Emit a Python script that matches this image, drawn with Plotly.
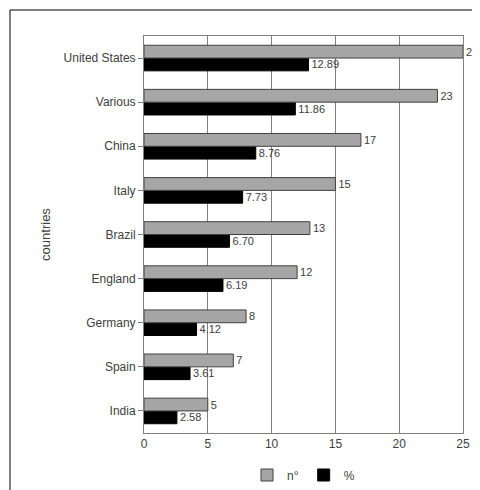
import plotly.graph_objects as go

countries = ["India", "Spain", "Germany", "England", "Brazil", "Italy", "China", "Various", "United States"]
n_values = [5, 7, 8, 12, 13, 15, 17, 23, 25]
pct_values = [2.58, 3.61, 4.12, 6.19, 6.70, 7.73, 8.76, 11.86, 12.89]

fig = go.Figure()
fig.add_trace(go.Bar(y=countries, x=pct_values, orientation="h", name="%",
                     marker=dict(color="black", line=dict(color="black", width=1)),
                     text=[f"{v:.2f}" for v in pct_values], textposition="outside",
                     textfont=dict(size=11, color="#404040"), cliponaxis=False))
fig.add_trace(go.Bar(y=countries, x=n_values, orientation="h", name="n°",
                     marker=dict(color="#a6a6a6", line=dict(color="#404040", width=1)),
                     text=[str(v) for v in n_values], textposition="outside",
                     textfont=dict(size=11, color="#404040"), cliponaxis=False))

W, H = 478, 486
L, R, T, B = 136, W - 455, 28, H - 425
pw, ph = W - L - R, H - T - B
def px(x): return (x - L) / pw
def py(y): return (H - B - y) / ph

fig.update_layout(
    width=W, height=H, margin=dict(l=L, r=R, t=T, b=B, autoexpand=False),
    paper_bgcolor="white", plot_bgcolor="white",
    font=dict(family="Liberation Sans, Arial", size=12, color="#404040"),
    barmode="group", bargap=0.42, bargroupgap=0,
    xaxis=dict(range=[0, 25], dtick=5, showgrid=True, gridcolor="#808080", gridwidth=1,
               linecolor="#808080", showline=True, mirror=True, ticks="", zeroline=False,
               automargin=False),
    yaxis=dict(showline=True, linecolor="#808080", mirror=True, ticks="outside",
               ticklen=5, tickcolor="#808080", automargin=False,
               title=dict(text="countries", font=dict(size=13), standoff=10)),
    legend=dict(orientation="h", x=0.5, xanchor="center", y=py(467), yanchor="middle",
                traceorder="reversed", font=dict(size=12), itemwidth=30),
    shapes=[dict(type="rect", xref="paper", yref="paper",
                 x0=px(2), x1=px(W - 3), y0=py(H - 3), y1=py(2),
                 line=dict(color="black", width=1))],
)
fig.write_html("out.html")
